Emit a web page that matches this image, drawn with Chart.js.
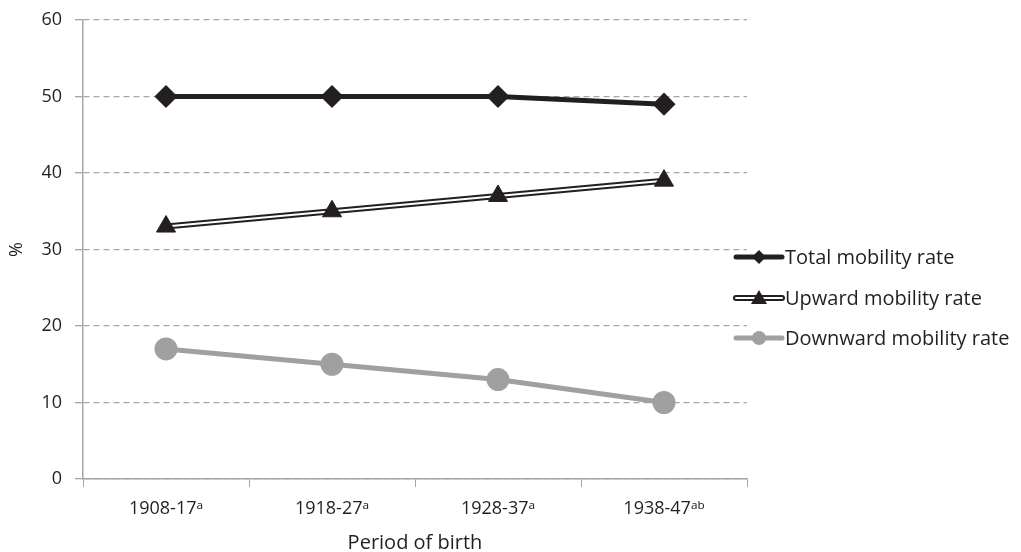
<!DOCTYPE html>
<html>
<head>
<meta charset="utf-8">
<script src="https://cdn.jsdelivr.net/npm/chart.js@4"></script>
<style>
  html, body { margin: 0; padding: 0; background: #fff; }
  #wrap { width: 1021px; height: 552px; position: relative; }
</style>
</head>
<body>
<div id="wrap"><canvas id="mobilityChart"></canvas></div>
<script>
// data
const periods = ['1908-17\u1D43', '1918-27\u1D43', '1928-37\u1D43', '1938-47\u1D43\u1D47'];
const totalRate = [50, 50, 50, 49];
const upwardRate = [33, 35, 37, 39];
const downwardRate = [17, 15, 13, 10];
const yTicks = [0, 10, 20, 30, 40, 50, 60];

const FONT = "'Open Sans', 'Noto Sans', 'DejaVu Sans', sans-serif";
const TEXT = '#231f20';
const AXIS = '#a6a6a6';

// legend drawn by hand so each entry shows line + marker
const legendItems = [
    { label: 'Total mobility rate', color: '#231f20', width: 5, inner: null, marker: 'diamond', y: 257 },
    { label: 'Upward mobility rate', color: '#231f20', width: 6, inner: '#ffffff', marker: 'triangle', y: 298 },
    { label: 'Downward mobility rate', color: '#a0a0a0', width: 5, inner: null, marker: 'circle', y: 338 }
];

const sideLegend = {
    id: 'sideLegend',
    afterDraw(chart) {
        const ctx = chart.ctx;
        const x0 = 736, x1 = 782, xm = 759;
        ctx.save();
        legendItems.forEach(it => {
            ctx.lineCap = 'round';
            ctx.strokeStyle = it.color;
            ctx.lineWidth = it.width;
            ctx.beginPath(); ctx.moveTo(x0, it.y); ctx.lineTo(x1, it.y); ctx.stroke();
            if (it.inner) {
                ctx.strokeStyle = it.inner;
                ctx.lineWidth = 2;
                ctx.beginPath(); ctx.moveTo(x0, it.y); ctx.lineTo(x1, it.y); ctx.stroke();
            }
            ctx.fillStyle = it.color;
            ctx.beginPath();
            if (it.marker === 'diamond') {
                ctx.moveTo(xm, it.y - 7); ctx.lineTo(xm + 7, it.y); ctx.lineTo(xm, it.y + 7); ctx.lineTo(xm - 7, it.y);
            } else if (it.marker === 'triangle') {
                ctx.moveTo(xm, it.y - 8); ctx.lineTo(xm + 8, it.y + 6); ctx.lineTo(xm - 8, it.y + 6);
            } else {
                ctx.arc(xm, it.y, 7, 0, Math.PI * 2);
            }
            ctx.closePath(); ctx.fill();
            ctx.fillStyle = TEXT;
            ctx.font = '20px ' + FONT;
            ctx.textBaseline = 'middle';
            ctx.textAlign = 'left';
            ctx.fillText(it.label, x1 + 3, it.y + 1);
        });
        ctx.restore();
    }
};

new Chart(document.getElementById('mobilityChart'), {
    type: 'line',
    data: {
        labels: periods,
        datasets: [
            {
                label: 'Total mobility rate',
                data: totalRate,
                order: 0,
                borderColor: '#231f20', backgroundColor: '#231f20',
                borderWidth: 5, pointStyle: 'rectRot', pointRadius: 8, pointHoverRadius: 8
            },
            {
                // outer black of the double line
                label: 'Upward mobility rate',
                data: upwardRate,
                order: 4,
                borderColor: '#231f20', borderWidth: 6, pointRadius: 0
            },
            {
                // white core of the double line
                label: 'upward-inner',
                data: upwardRate,
                order: 3,
                borderColor: '#ffffff', borderWidth: 2, pointRadius: 0
            },
            {
                label: 'Upward markers',
                data: upwardRate,
                order: 2,
                showLine: false,
                borderColor: '#231f20', backgroundColor: '#231f20',
                pointStyle: 'triangle', pointRadius: 11, pointHoverRadius: 11
            },
            {
                label: 'Downward mobility rate',
                data: downwardRate,
                order: 1,
                borderColor: '#a0a0a0', backgroundColor: '#a0a0a0',
                borderWidth: 5, pointStyle: 'circle', pointRadius: 9, pointHoverRadius: 9
            }
        ]
    },
    options: {
        responsive: true,
        maintainAspectRatio: false,
        animation: false,
        layout: { padding: { top: 20, right: 274, left: 0, bottom: 0 } },
        plugins: { legend: { display: false }, tooltip: { enabled: false } },
        scales: {
            x: {
                offset: true,
                grid: { offset: true, drawOnChartArea: false, drawTicks: true, tickLength: 8, color: AXIS },
                border: { color: AXIS, width: 1.5 },
                ticks: { color: TEXT, font: { family: FONT, size: 18 }, padding: 11 },
                title: { display: true, text: 'Period of birth', color: TEXT, font: { family: FONT, size: 20 }, padding: { top: 6, bottom: -3 } },
                afterFit(scale) { scale.height = 73; }
            },
            y: {
                min: 0, max: 60,
                afterBuildTicks(scale) { scale.ticks = yTicks.map(v => ({ value: v })); },
                grid: { color: AXIS, lineWidth: 1.3, tickLength: 8, tickBorderDash: [], tickColor: AXIS },
                border: { color: AXIS, width: 1.5, dash: [6, 4] },
                ticks: { color: TEXT, font: { family: FONT, size: 18 }, padding: 13 },
                title: { display: true, text: '%', color: TEXT, font: { family: FONT, size: 18 }, padding: { top: 6, bottom: 0 } },
                afterFit(scale) { scale.width = 83; scale.paddingTop = 0; scale.paddingBottom = 0; }
            }
        }
    },
    plugins: [sideLegend]
});
</script>
</body>
</html>
